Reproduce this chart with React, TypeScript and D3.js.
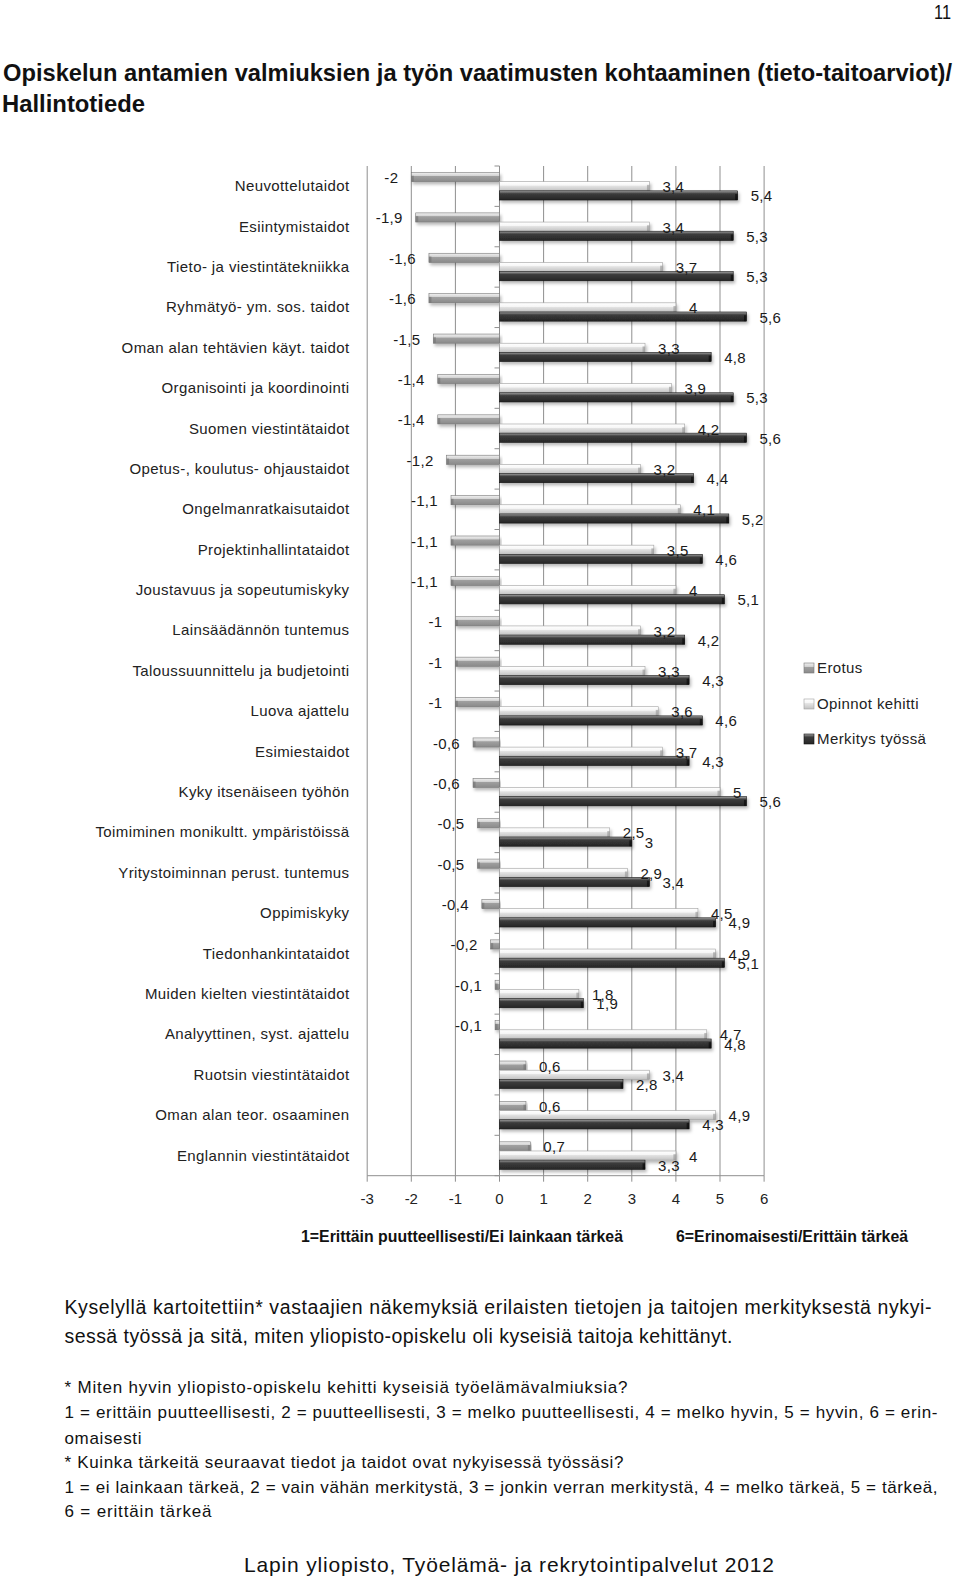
import React from "react";
import * as d3 from "d3";

const categories = [
  "Neuvottelutaidot",
  "Esiintymistaidot",
  "Tieto- ja viestintätekniikka",
  "Ryhmätyö- ym. sos. taidot",
  "Oman alan tehtävien käyt. taidot",
  "Organisointi ja koordinointi",
  "Suomen viestintätaidot",
  "Opetus-, koulutus- ohjaustaidot",
  "Ongelmanratkaisutaidot",
  "Projektinhallintataidot",
  "Joustavuus ja sopeutumiskyky",
  "Lainsäädännön tuntemus",
  "Taloussuunnittelu ja budjetointi",
  "Luova ajattelu",
  "Esimiestaidot",
  "Kyky itsenäiseen työhön",
  "Toimiminen monikultt. ympäristöissä",
  "Yritystoiminnan perust. tuntemus",
  "Oppimiskyky",
  "Tiedonhankintataidot",
  "Muiden kielten viestintätaidot",
  "Analyyttinen, syst. ajattelu",
  "Ruotsin viestintätaidot",
  "Oman alan teor. osaaminen",
  "Englannin viestintätaidot",
];

const erotus = [-2, -1.9, -1.6, -1.6, -1.5, -1.4, -1.4, -1.2, -1.1, -1.1, -1.1, -1, -1, -1, -0.6, -0.6, -0.5, -0.5, -0.4, -0.2, -0.1, -0.1, 0.6, 0.6, 0.7];
const opinnot = [3.4, 3.4, 3.7, 4, 3.3, 3.9, 4.2, 3.2, 4.1, 3.5, 4, 3.2, 3.3, 3.6, 3.7, 5, 2.5, 2.9, 4.5, 4.9, 1.8, 4.7, 3.4, 4.9, 4];
const merkitys = [5.4, 5.3, 5.3, 5.6, 4.8, 5.3, 5.6, 4.4, 5.2, 4.6, 5.1, 4.2, 4.3, 4.6, 4.3, 5.6, 3, 3.4, 4.9, 5.1, 1.9, 4.8, 2.8, 4.3, 3.3];

const seriesNames = ["Erotus", "Opinnot kehitti", "Merkitys työssä"];
const xTicks = [-3, -2, -1, 0, 1, 2, 3, 4, 5, 6];

const titleLines = [
  "Opiskelun antamien valmiuksien ja työn vaatimusten kohtaaminen (tieto-taitoarviot)/",
  "Hallintotiede",
];
const scaleNotes = ["1=Erittäin puutteellisesti/Ei lainkaan tärkeä", "6=Erinomaisesti/Erittäin tärkeä"];

const FONT = "'Liberation Sans', Arial, sans-serif";
const NARROW = "'Liberation Sans Narrow', 'Arial Narrow', 'Liberation Sans', Arial, sans-serif";

const fmt = (v: number) => String(v).replace(".", ",");

export default function App() {
  const x = d3.scaleLinear().domain([-3, 6]).range([367.2, 764.1]);
  const y = d3.scaleBand<string>().domain(categories).range([166, 1175.7]).padding(0);
  const inner = d3.scaleBand<string>().domain(seriesNames).range([6.5, 34]).padding(0);
  const bh = inner.bandwidth();

  const series = [
    { name: seriesNames[0], values: erotus, grad: "gErotus", stroke: "#7a7a7a", cap: "#6f6f6f" },
    { name: seriesNames[1], values: opinnot, grad: "gOpinnot", stroke: "#a0a0a0", cap: "#8c8c8c" },
    { name: seriesNames[2], values: merkitys, grad: "gMerkitys", stroke: "#111", cap: "#000" },
  ];

  const plotTop = y.range()[0];
  const plotBottom = y.range()[1];

  return (
    <div style={{ position: "absolute", left: 0, top: 0 }}>
      <svg width={960} height={1580} style={{ display: "block", background: "#fff" }}>
        <defs>
          <linearGradient id="gErotus" x1="0" y1="0" x2="0" y2="1">
            <stop offset="0%" stopColor="#f0f0f0" />
            <stop offset="36%" stopColor="#d2d2d2" />
            <stop offset="40%" stopColor="#a0a0a0" />
            <stop offset="100%" stopColor="#8a8a8a" />
          </linearGradient>
          <linearGradient id="gOpinnot" x1="0" y1="0" x2="0" y2="1">
            <stop offset="0%" stopColor="#ffffff" />
            <stop offset="40%" stopColor="#f6f6f6" />
            <stop offset="45%" stopColor="#e4e4e4" />
            <stop offset="100%" stopColor="#c2c2c2" />
          </linearGradient>
          <linearGradient id="gMerkitys" x1="0" y1="0" x2="0" y2="1">
            <stop offset="0%" stopColor="#a8a8a8" />
            <stop offset="20%" stopColor="#606060" />
            <stop offset="32%" stopColor="#3c3c3c" />
            <stop offset="100%" stopColor="#262626" />
          </linearGradient>
          <filter id="shadow" x="-5%" y="-50%" width="110%" height="250%">
            <feDropShadow dx="1.5" dy="2.5" stdDeviation="1.6" floodColor="#000" floodOpacity="0.28" />
          </filter>
        </defs>

        {/* page number */}
        <text x={951} y={18.5} textAnchor="end" fontFamily={NARROW} fontSize={20} fill="#111" textLength={17} lengthAdjust="spacingAndGlyphs">11</text>

        {/* title */}
        <g transform="translate(3,80.5) scale(1,1.28)">
          <text x={0} y={0} fontFamily={NARROW} fontWeight="bold" fontSize={18.5} fill="#111" textLength={949} lengthAdjust="spacingAndGlyphs">{titleLines[0]}</text>
        </g>
        <g transform="translate(2,112) scale(1,1.28)">
          <text x={0} y={0} fontFamily={NARROW} fontWeight="bold" fontSize={18.5} fill="#111" textLength={143} lengthAdjust="spacingAndGlyphs">{titleLines[1]}</text>
        </g>

        {/* gridlines */}
        {xTicks.map((t) => (
          <line key={"g" + t} x1={x(t)} x2={x(t)} y1={plotTop} y2={plotBottom} stroke="#8f8f8f" strokeWidth={1} />
        ))}
        {/* bottom axis */}
        <line x1={x(-3)} x2={x(6)} y1={plotBottom} y2={plotBottom} stroke="#8f8f8f" strokeWidth={1} />
        {xTicks.map((t) => (
          <g key={"t" + t}>
            <line x1={x(t)} x2={x(t)} y1={plotBottom} y2={plotBottom + 6} stroke="#8f8f8f" />
            <text x={x(t)} y={plotBottom + 28.5} textAnchor="middle" fontFamily={FONT} fontSize={15} fill="#222">{fmt(t)}</text>
          </g>
        ))}
        {/* vertical category axis at 0 */}
        <line x1={x(0)} x2={x(0)} y1={plotTop} y2={plotBottom} stroke="#8f8f8f" />
        {categories.map((c) => (
          <line key={"yt" + c} x1={x(0) - 5} x2={x(0)} y1={y(c)!} y2={y(c)!} stroke="#8f8f8f" />
        ))}
        <line x1={x(0) - 5} x2={x(0)} y1={plotBottom} y2={plotBottom} stroke="#8f8f8f" />

        {/* category labels */}
        {categories.map((c) => (
          <text key={"cl" + c} x={349.5} y={y(c)! + y.bandwidth() / 2 + 5} textAnchor="end" fontFamily={FONT} fontSize={15} letterSpacing={0.4} fill="#222">{c}</text>
        ))}

        {/* bars */}
        {series.map((s) => (
          <g key={s.name}>
            {s.values.map((v, i) => {
              const c = categories[i];
              const by = y(c)! + inner(s.name)!;
              const x1 = x(Math.min(0, v));
              const x2 = x(Math.max(0, v));
              const capX = v >= 0 ? x2 - 2.5 : x1;
              return (
                <g key={i}>
                  <rect x={x1} y={by} width={Math.max(0.5, x2 - x1)} height={bh} fill={`url(#${s.grad})`} stroke={s.stroke} strokeWidth={0.6} filter="url(#shadow)" />
                  <rect x={capX} y={by + bh * 0.35} width={2.5} height={bh * 0.65} fill={s.cap} opacity={0.55} />
                </g>
              );
            })}
          </g>
        ))}

        {/* data labels */}
        {series.map((s) => (
          <g key={"l" + s.name}>
            {s.values.map((v, i) => {
              const c = categories[i];
              const cy = y(c)! + inner(s.name)! + inner.bandwidth() / 2 + 1;
              const neg = v < 0;
              return (
                <text key={i} x={neg ? x(v) - 13 : x(v) + 13} y={cy + 5} textAnchor={neg ? "end" : "start"} fontFamily={FONT} fontSize={15} letterSpacing={0.3} fill="#1a1a1a">{fmt(v)}</text>
              );
            })}
          </g>
        ))}

        {/* legend */}
        {series.map((s, i) => {
          const ly = [668, 704, 739][i];
          return (
            <g key={"lg" + s.name}>
              <rect x={804} y={ly - 5} width={10} height={10} fill={`url(#${s.grad})`} stroke={s.stroke} strokeWidth={0.6} />
              <text x={817} y={ly + 5} fontFamily={FONT} fontSize={15} letterSpacing={0.4} fill="#222">{s.name}</text>
            </g>
          );
        })}

        {/* scale notes */}
        <text x={301} y={1242} fontFamily={NARROW} fontWeight="bold" fontSize={16} fill="#111" textLength={322} lengthAdjust="spacingAndGlyphs">{scaleNotes[0]}</text>
        <text x={676} y={1242} fontFamily={NARROW} fontWeight="bold" fontSize={16} fill="#111" textLength={232} lengthAdjust="spacingAndGlyphs">{scaleNotes[1]}</text>

        {/* paragraph */}
        <g fontFamily={FONT} fill="#111">
          <text x={64.5} y={1314} fontSize={19.5} textLength={867} lengthAdjust="spacing">Kyselyllä kartoitettiin* vastaajien näkemyksiä erilaisten tietojen ja taitojen merkityksestä nykyi-</text>
          <text x={64.5} y={1342.5} fontSize={19.5} textLength={668} lengthAdjust="spacing">sessä työssä ja sitä, miten yliopisto-opiskelu oli kyseisiä taitoja kehittänyt.</text>
          <text x={64.5} y={1393} fontSize={17} textLength={563} lengthAdjust="spacing">* Miten hyvin yliopisto-opiskelu kehitti kyseisiä työelämävalmiuksia?</text>
          <text x={64.5} y={1418} fontSize={17} textLength={873} lengthAdjust="spacing">1 = erittäin puutteellisesti, 2 = puutteellisesti, 3 = melko puutteellisesti, 4 = melko hyvin, 5 = hyvin, 6 = erin-</text>
          <text x={64.5} y={1443.5} fontSize={17} textLength={77} lengthAdjust="spacing">omaisesti</text>
          <text x={64.5} y={1467.5} fontSize={17} textLength={559} lengthAdjust="spacing">* Kuinka tärkeitä seuraavat tiedot ja taidot ovat nykyisessä työssäsi?</text>
          <text x={64.5} y={1493} fontSize={17} textLength={873} lengthAdjust="spacing">1 = ei lainkaan tärkeä, 2 = vain vähän merkitystä, 3 = jonkin verran merkitystä, 4 = melko tärkeä, 5 = tärkeä,</text>
          <text x={64.5} y={1517} fontSize={17} textLength={147} lengthAdjust="spacing">6 = erittäin tärkeä</text>
          <text x={244} y={1571.5} fontSize={21} textLength={530} lengthAdjust="spacing">Lapin yliopisto, Työelämä- ja rekrytointipalvelut 2012</text>
        </g>
      </svg>
    </div>
  );
}
